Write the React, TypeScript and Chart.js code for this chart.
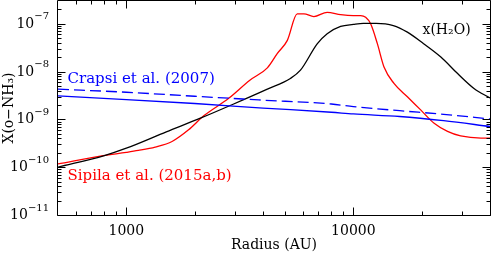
import { useEffect, useRef } from 'react';
import { Chart, registerables } from 'chart.js';

Chart.register(...registerables);

// ---- data ----
const radiusCrapsi = [500, 1000, 2000, 4000, 8000, 10000, 16000, 25000, 40000];
const crapsiSolid = [3.1e-9, 2.6e-9, 2.15e-9, 1.73e-9, 1.41e-9, 1.3e-9, 1.15e-9, 9.4e-10, 7.1e-10];
const crapsiDashed = [4.3e-9, 3.7e-9, 3.05e-9, 2.53e-9, 2.1e-9, 1.85e-9, 1.52e-9, 1.28e-9, 1.02e-9];

const radiusWater = [500, 800, 1000, 1500, 2120, 2970, 4180, 5280, 5850, 6930, 7670, 8790, 10000, 11070, 12600, 15000, 17300, 20400, 24300, 28800, 34000, 40000];
const waterValues = [1.0e-10, 1.75e-10, 2.5e-10, 5.5e-10, 1.06e-9, 2.1e-9, 4.3e-9, 7.2e-9, 1.07e-8, 3.8e-8, 6.2e-8, 8.8e-8, 9.7e-8, 1.02e-7, 1.02e-7, 9.2e-8, 6.7e-8, 3.84e-8, 2.02e-8, 9.1e-9, 4.45e-9, 2.8e-9];

const radiusSipila = [500, 790, 1000, 1130, 1340, 1590, 1880, 2200, 2825, 3500, 4180, 4620, 5120, 5660, 6060, 6700, 7670, 8790, 10000, 10770, 11330, 11920, 12760, 13650, 15100, 17300, 19800, 22700, 26000, 29700, 36500, 40000];
const sipilaValues = [1.17e-10, 1.74e-10, 2.04e-10, 2.24e-10, 2.64e-10, 3.45e-10, 6.05e-10, 1.2e-9, 2.76e-9, 6.6e-9, 1.2e-8, 2.38e-8, 4.5e-8, 1.61e-7, 1.61e-7, 1.42e-7, 1.74e-7, 1.56e-7, 1.49e-7, 1.49e-7, 1.37e-7, 1.0e-7, 3.84e-8, 1.25e-8, 5.66e-9, 2.98e-9, 1.58e-9, 8.3e-10, 5.6e-10, 4.5e-10, 4.06e-10, 4.06e-10];

const xMajorTicks = [1000, 10000];
const xMinorTicks = [600, 700, 800, 900, 2000, 3000, 4000, 5000, 6000, 7000, 8000, 9000, 20000, 30000, 40000];
const yMajorTicks = [1e-11, 1e-10, 1e-9, 1e-8, 1e-7];
const yMinorMultipliers = [2, 3, 4, 5, 6, 7, 8, 9];

const xMin = 500;
const xMax = 40000;
const yMin = 1e-11;
const yMax = 3e-7;

const labelCrapsi = 'Crapsi et al. (2007)';
const labelSipila = 'Sipila et al. (2015a,b)';
const labelWater = 'x(H₂O)';
const xTitle = 'Radius (AU)';
const yTitle = 'X(o−NH₃)';

const FONT = '"DejaVu Serif", serif';

const pts = (xs: number[], ys: number[]) => xs.map((x, i) => ({ x, y: ys[i] }));

const framePlugin = {
  id: 'frame',
  afterDatasetsDraw(chart: any) {
    const { ctx, chartArea: a, scales } = chart;
    const xs = scales.x;
    const ys = scales.y;
    const L = a.left - 0.5;
    const R = a.right + 0.5;
    const T = a.top - 0.5;
    const B = a.bottom + 0.5;
    ctx.save();
    ctx.strokeStyle = '#000';
    ctx.lineWidth = 1;
    ctx.beginPath();
    ctx.rect(L, T, R - L, B - T);
    const xTick = (v: number, len: number) => {
      const p = Math.round(xs.getPixelForValue(v)) + 0.5;
      ctx.moveTo(p, B);
      ctx.lineTo(p, B - len);
      ctx.moveTo(p, T);
      ctx.lineTo(p, T + len);
    };
    const yTick = (v: number, len: number) => {
      const p = Math.round(ys.getPixelForValue(v)) + 0.5;
      ctx.moveTo(L, p);
      ctx.lineTo(L + len, p);
      ctx.moveTo(R, p);
      ctx.lineTo(R - len, p);
    };
    xMajorTicks.forEach((v) => xTick(v, 8));
    xMinorTicks.forEach((v) => xTick(v, 4));
    yMajorTicks.forEach((v) => yTick(v, 8));
    yMajorTicks.forEach((d) =>
      yMinorMultipliers.forEach((m) => {
        const v = d * m;
        if (v < yMax) yTick(v, 4);
      })
    );
    ctx.stroke();

    // y tick labels: 10 with a raised exponent
    const baseFont = `14px ${FONT}`;
    const expFont = `10px ${FONT}`;
    ctx.fillStyle = '#000';
    ctx.textAlign = 'left';
    ctx.textBaseline = 'alphabetic';
    const rightEdge = a.left - 9;
    yMajorTicks.forEach((v) => {
      const p = ys.getPixelForValue(v);
      const e = '−' + String(-Math.round(Math.log10(v)));
      ctx.font = expFont;
      const we = ctx.measureText(e).width;
      ctx.font = baseFont;
      const wb = ctx.measureText('10').width;
      ctx.fillText('10', rightEdge - we - wb, p + 4);
      ctx.font = expFont;
      ctx.fillText(e, rightEdge - we, p - 4.5);
    });

    ctx.font = `15px ${FONT}`;
    ctx.fillStyle = '#0000ff';
    ctx.fillText(labelCrapsi, 67.5, 83);
    ctx.fillStyle = '#ff0000';
    ctx.fillText(labelSipila, 67.5, 180);
    ctx.font = `14px ${FONT}`;
    ctx.fillStyle = '#000';
    ctx.fillText(labelWater, 422.5, 33.5);
    ctx.restore();
  },
};

export default function App() {
  const ref = useRef<HTMLCanvasElement | null>(null);

  useEffect(() => {
    if (!ref.current) return;
    const common = {
      pointRadius: 0,
      borderWidth: 1.3,
      fill: false,
      cubicInterpolationMode: 'monotone' as const,
    };
    const chart = new Chart(ref.current, {
      type: 'line',
      data: {
        datasets: [
          { ...common, label: 'Crapsi solid', data: pts(radiusCrapsi, crapsiSolid), borderColor: '#0000ff' },
          { ...common, label: 'Crapsi dashed', data: pts(radiusCrapsi, crapsiDashed), borderColor: '#0000ff', borderDash: [11, 5] },
          { ...common, label: 'H2O', data: pts(radiusWater, waterValues), borderColor: '#000000' },
          { ...common, label: 'Sipila', data: pts(radiusSipila, sipilaValues), borderColor: '#ff0000' },
        ],
      },
      options: {
        responsive: false,
        animation: false,
        devicePixelRatio: 1,
        layout: { padding: { left: 0, right: 1, top: 1, bottom: 0 } },
        plugins: { legend: { display: false }, tooltip: { enabled: false } },
        scales: {
          x: {
            type: 'logarithmic',
            min: xMin,
            max: xMax,
            grid: { display: false, drawTicks: false },
            border: { display: false },
            afterBuildTicks: (s: any) => {
              s.ticks = xMajorTicks.map((value) => ({ value }));
            },
            afterFit: (s: any) => {
              s.height = 40;
              s.paddingLeft = 0;
              s.paddingRight = 0;
            },
            ticks: {
              autoSkip: false,
              maxRotation: 0,
              padding: 8,
              color: '#000',
              font: { family: FONT, size: 14 },
              callback: (v: any) => String(v),
            },
            title: {
              display: true,
              text: xTitle,
              color: '#000',
              font: { family: FONT, size: 14 },
              padding: { top: 0, bottom: 1 },
            },
          },
          y: {
            type: 'logarithmic',
            min: yMin,
            max: yMax,
            grid: { display: false, drawTicks: false },
            border: { display: false },
            afterBuildTicks: (s: any) => {
              s.ticks = yMajorTicks.map((value) => ({ value }));
            },
            afterFit: (s: any) => {
              s.width = 58;
              s.paddingTop = 0;
              s.paddingBottom = 0;
            },
            ticks: { display: false },
            title: {
              display: true,
              text: yTitle,
              color: '#000',
              font: { family: FONT, size: 14 },
              padding: { top: 1, bottom: 0 },
            },
          },
        },
      },
      plugins: [framePlugin],
    });
    return () => chart.destroy();
  }, []);

  return (
    <div style={{ position: 'absolute', left: 0, top: 0, width: 491, height: 255 }}>
      <canvas ref={ref} width={491} height={255} style={{ display: 'block' }} />
    </div>
  );
}
